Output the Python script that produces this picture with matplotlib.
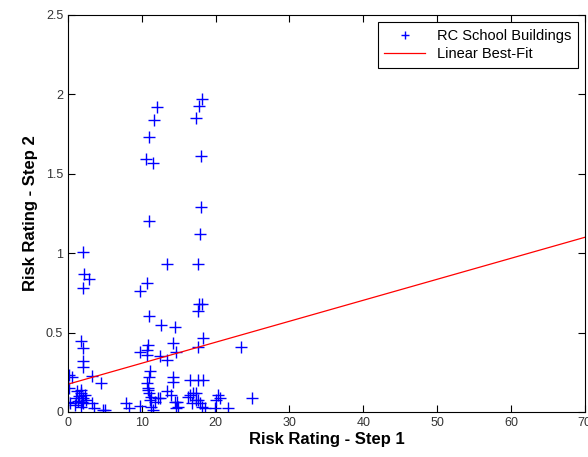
import numpy as np
import matplotlib
matplotlib.use("Agg")
import matplotlib.pyplot as plt

plt.rcParams['font.family'] = ['Liberation Sans', 'DejaVu Sans']

# step 1 / step 2 risk ratings
step1 = [12.1, 11.7, 11.0, 10.5, 11.55, 11.0, 18.1, 17.7, 17.3, 17.95, 17.95,
         17.9, 13.45, 17.6, 2.1, 2.2, 2.8, 2.1, 10.7, 9.75, 17.8, 18.2, 17.6,
         11.0, 12.55, 14.5, 1.75, 2.1, 2.1, 2.1, 0.15, 0.5, 3.25, 4.5, 0.1,
         1.2, 1.5, 1.8, 2.0, 2.3, 1.4, 1.7, 1.1, 2.4, 1.9, 0.0, 0.3, 1.0, 1.7,
         2.1, 3.25, 3.5, 4.8, 5.0, 7.8, 8.2, 9.7, 10.9, 10.75, 10.75, 12.45,
         13.45, 14.25, 14.6, 11.1, 11.0, 14.25, 14.25, 16.5, 17.6, 10.65, 10.9,
         11.0, 11.3, 13.35, 14.0, 17.0, 11.1, 11.8, 12.45, 9.75, 11.3, 11.55,
         14.7, 14.9, 16.5, 16.75, 17.4, 18.3, 17.4, 17.65, 17.9, 18.1, 18.5,
         20.35, 20.6, 20.1, 19.9, 21.7, 24.9, 17.65, 18.25, 23.5, 14.5, 14.6,
         12.2, 16.3, 10.9]
step2 = [1.92, 1.84, 1.73, 1.59, 1.57, 1.20, 1.97, 1.93, 1.85, 1.61, 1.29,
         1.12, 0.93, 0.93, 1.005, 0.87, 0.835, 0.78, 0.81, 0.76, 0.68, 0.68,
         0.635, 0.605, 0.545, 0.535, 0.45, 0.40, 0.32, 0.285, 0.235, 0.22, 0.225,
         0.185, 0.15, 0.13, 0.10, 0.12, 0.09, 0.11, 0.07, 0.14, 0.09, 0.075,
         0.06, 0.065, 0.055, 0.045, 0.033, 0.055, 0.055, 0.023, 0.013, 0.013,
         0.055, 0.023, 0.38, 0.42, 0.39, 0.36, 0.35, 0.33, 0.435, 0.38, 0.255,
         0.22, 0.22, 0.19, 0.2, 0.2, 0.18, 0.15, 0.12, 0.095, 0.13, 0.105,
         0.12, 0.075, 0.065, 0.085, 0.038, 0.033, 0.013, 0.06, 0.033, 0.107,
         0.055, 0.076, 0.2, 0.118, 0.076, 0.055, 0.033, 0.023, 0.107, 0.086,
         0.076, 0.023, 0.023, 0.086, 0.41, 0.465, 0.41, 0.065, 0.023, 0.086,
         0.092, 0.14]

# best-fit line end points
fit_x = [0, 70]
fit_y = [0.175, 1.10]

fig = plt.figure(figsize=(5.88, 4.57), dpi=100)
ax = fig.add_axes([0.1156, 0.0985, 0.879, 0.8687])

ax.plot(step1, step2, '+', color='blue', markersize=8, markeredgewidth=1.0,
        label='RC School Buildings')
ax.plot(fit_x, fit_y, '-', color='red', linewidth=0.9, label='Linear Best-Fit')

ax.set_xlim(0, 70)
ax.set_ylim(0, 2.5)
ax.set_xticks(range(0, 71, 10))
ax.set_yticks([0, 0.5, 1, 1.5, 2, 2.5])
ax.set_yticklabels(['0', '0.5', '1', '1.5', '2', '2.5'])
ax.tick_params(direction='in', top=True, right=True, labelsize=9,
               labelcolor='#333333', length=5)

ax.set_xlabel('Risk Rating - Step 1', fontsize=12, fontweight='bold', labelpad=2)
ax.set_ylabel('Risk Rating - Step 2', fontsize=12, fontweight='bold', labelpad=6)

leg = ax.legend(loc='upper right', fontsize=10.5, fancybox=False, framealpha=1,
                edgecolor='black', borderaxespad=0.5, handlelength=2.8,
                handletextpad=0.8, borderpad=0.45, labelspacing=0.3,
                markerscale=0.8)
leg.get_frame().set_linewidth(0.8)

fig.savefig('out.png', dpi=100)
